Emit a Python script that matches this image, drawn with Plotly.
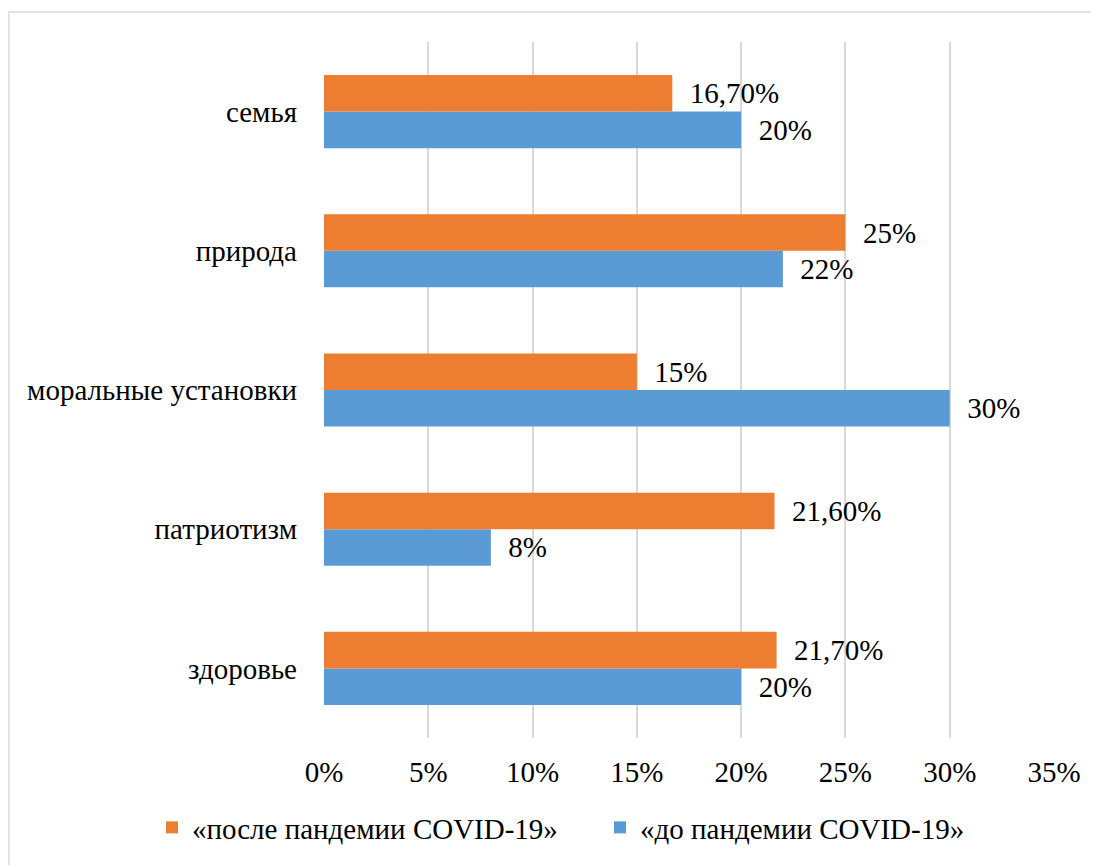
import plotly.graph_objects as go

categories = ["здоровье", "патриотизм", "моральные установки", "природа", "семья"]
after_vals = [21.7, 21.6, 15.0, 25.0, 16.7]
before_vals = [20.0, 8.0, 30.0, 22.0, 20.0]
after_labels = ["21,70%", "21,60%", "15%", "25%", "16,70%"]
before_labels = ["20%", "8%", "30%", "22%", "20%"]
tick_vals = [0, 5, 10, 15, 20, 25, 30, 35]
tick_text = ["0%", "5%", "10%", "15%", "20%", "25%", "30%", "35%"]

after_name = "«после пандемии COVID-19»"
before_name = "«до пандемии COVID-19»"

FONT = "Liberation Serif"
FS = 29

W, H = 1091, 857
L, T = 316, 34
PW, PH = 730, 698

fig = go.Figure()
fig.add_trace(go.Bar(
    y=categories, x=before_vals, orientation="h", name=before_name,
    marker=dict(color="#5B9BD5", line=dict(width=0)),
    text=["  " + t for t in before_labels], textposition="outside",
    textfont=dict(family=FONT, size=FS, color="#000"), cliponaxis=False,
    legend="legend2",
))
fig.add_trace(go.Bar(
    y=categories, x=after_vals, orientation="h", name=after_name,
    marker=dict(color="#ED7D31", line=dict(width=0)),
    text=["  " + t for t in after_labels], textposition="outside",
    textfont=dict(family=FONT, size=FS, color="#000"), cliponaxis=False,
    legend="legend",
))

leg_common = dict(orientation="h", y=-0.092, yanchor="top", xanchor="left",
                  font=dict(family=FONT, size=FS, color="#000"),
                  bgcolor="rgba(0,0,0,0)")

fig.update_layout(
    width=W, height=H,
    margin=dict(l=L, r=W - L - PW, t=T, b=H - T - PH),
    paper_bgcolor="white", plot_bgcolor="white",
    barmode="group", bargap=0.475, bargroupgap=0,
    font=dict(family=FONT, size=FS, color="#000"),
    showlegend=True,
    legend=dict(x=(144 - L) / PW, **leg_common),
    legend2=dict(x=(592 - L) / PW, **leg_common),
    xaxis=dict(range=[0, 35], tickvals=tick_vals, ticktext=tick_text,
               showgrid=True, gridcolor="#d9d9d9", gridwidth=1.5,
               zeroline=False, showline=False, ticks="",
               ticklabelstandoff=14, fixedrange=True),
    yaxis=dict(showgrid=False, zeroline=False, showline=False, ticks="",
               ticklabelstandoff=26, fixedrange=True),
    shapes=[dict(type="rect", xref="paper", yref="paper",
                 x0=(1 - L) / PW, x1=1.2, y0=-0.5, y1=1 + (T - 4) / PH,
                 line=dict(color="#d9d9d9", width=1.5), fillcolor="rgba(0,0,0,0)",
                 layer="below")],
)

fig.write_html("out.html")
